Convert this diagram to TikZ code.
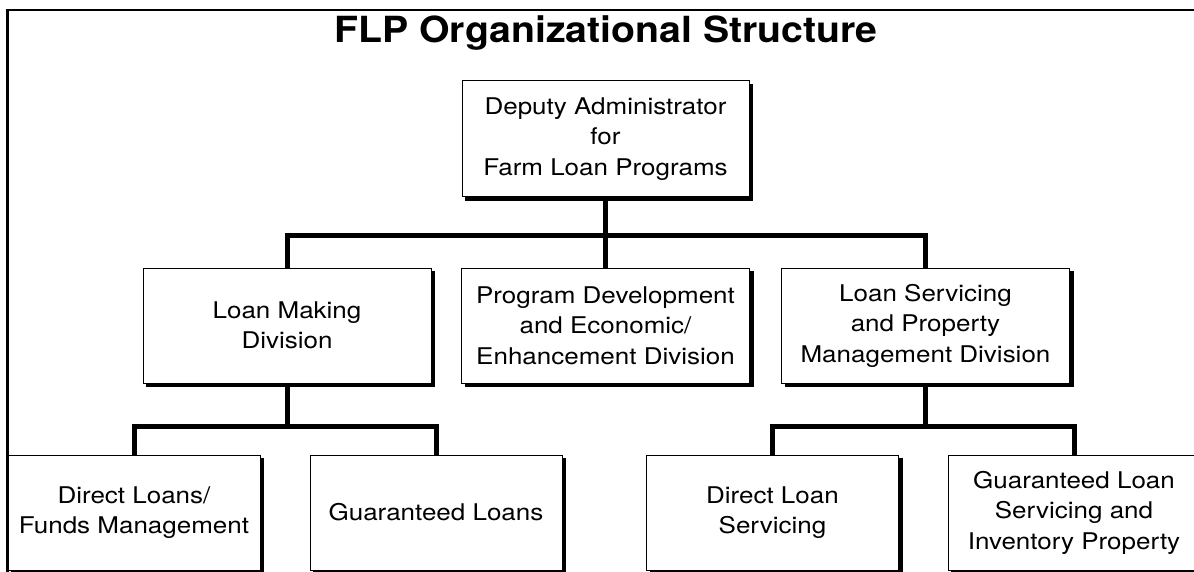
\documentclass[tikz,border=0pt]{standalone}
\usepackage{fontspec}
\setmainfont{TeX Gyre Heros}[FakeStretch=1.13]
\newfontfamily\titlefont{TeX Gyre Heros}[FakeStretch=1.09]
\usetikzlibrary{backgrounds}

\begin{document}
\begin{tikzpicture}[x=1pt,y=1pt,
  unitbox/.style={draw=black, line width=1pt, fill=white, inner sep=0pt,
    minimum width=288pt, minimum height=115pt, align=center,
    font=\fontsize{23}{30.5}\selectfont},
  lowbox/.style={unitbox, minimum width=252pt},
  orgline/.style={line width=5pt, line join=miter}]
\useasboundingbox (0,0) rectangle (1194,-572);

%Frame
\draw [line width=2.5pt] (7.5,-575) -- (7.5,-10) -- (1200,-10) ;

% Text Node
\node (title) [anchor=base, font=\titlefont\bfseries\fontsize{36}{40}\selectfont] at (606,-42.7) {FLP Organizational Structure};

% Boxes
\node (dep) [unitbox, minimum width=287pt, minimum height=116pt] at (605.5,-139) {Deputy Administrator\\for\\Farm Loan Programs};
\node (lmd) [unitbox] at (287,-325.5) {Loan Making\\Division};
\node (pdd) [unitbox] at (605.5,-325.5) {Program Development\\and Economic/\\Enhancement Division};
\node (lsd) [unitbox] at (925.5,-325.5) {Loan Servicing\\and Property\\Management Division};
\node (dlf) [lowbox] at (134,-512.5) {Direct Loans/\\Funds Management};
\node (gln) [lowbox] at (436,-512.5) {Guaranteed Loans};
\node (dls) [lowbox] at (772.5,-512.5) {Direct Loan\\Servicing};
\node (gls) [lowbox] at (1074,-512.5) {Guaranteed Loan\\Servicing and\\Inventory Property};

% Shadows
\begin{scope}[on background layer]
  \foreach \b in {dep,lmd,pdd,lsd,dlf,gln,dls,gls}
    \fill ([shift={(3.5,-3.5)}]\b.south west) rectangle ([shift={(3.5,-3.5)}]\b.north east);
\end{scope}

% Bar levels
\coordinate (upbar) at (0,-236);
\coordinate (lowbar) at (0,-426);

%Straight Lines
\draw [orgline] (dep.south) -- (pdd.north) ;
\draw [orgline] (lmd.north) -- (lmd.north |- upbar) -| (lsd.north) ;
\draw [orgline] (lmd.south) -- (lmd.south |- lowbar) ;
\draw [orgline] (dlf.north) -- (dlf.north |- lowbar) -| (gln.north) ;
\draw [orgline] (lsd.south) -- (lsd.south |- lowbar) ;
\draw [orgline] (dls.north) -- (dls.north |- lowbar) -| (gls.north) ;

\end{tikzpicture}
\end{document}
